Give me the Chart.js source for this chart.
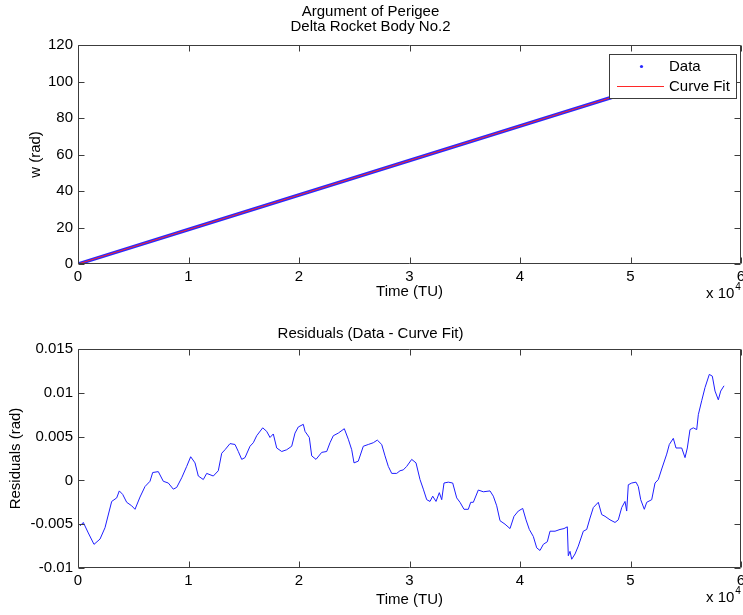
<!DOCTYPE html>
<html>
<head>
<meta charset="utf-8">
<script src="https://cdn.jsdelivr.net/npm/chart.js@4.4.1/dist/chart.umd.min.js"></script>
<style>
  body { margin: 0; background: #fff; }
  #wrap { position: relative; width: 743px; height: 615px; }
  canvas { position: absolute; left: 0; }
</style>
</head>
<body>
<div id="wrap">
  <canvas id="topChart" width="743" height="307" style="top:0"></canvas>
  <canvas id="resChart" width="743" height="308" style="top:307px"></canvas>
</div>
<script>
// x axis ticks (shared), shown in units of 10^4
var timeTicks = [0, 10000, 20000, 30000, 40000, 50000, 60000];
var timeTickLabels = ["0", "1", "2", "3", "4", "5", "6"];
var wTicks = [0, 20, 40, 60, 80, 100, 120];
var wTickLabels = ["0", "20", "40", "60", "80", "100", "120"];
var resTicks = [-0.01, -0.005, 0, 0.005, 0.01, 0.015];
var resTickLabels = ["-0.01", "-0.005", "0", "0.005", "0.01", "0.015"];

// Argument of perigee data
var dataTime = [0, 10000, 20000, 30000, 40000, 50000, 58463];
var dataW = [0, 18.9, 37.8, 56.7, 75.6, 94.5, 110.5];
// Curve fit
var fitTime = [0, 58463];
var fitW = [0, 110.5];

// Residuals (data - curve fit)
var resTime = [181, 480, 932, 1448, 1991, 2444, 3050, 3502, 3738, 4045, 4407, 4860, 5159, 5611, 6064,
  6516, 6760, 7267, 7720, 8172, 8625, 8932, 9385, 9837, 10199, 10589, 10887, 11340, 11647, 12245,
  12697, 13005, 13304, 13756, 14209, 14507, 14815, 15114, 15566, 15865, 16172, 16715, 17077, 17376,
  17675, 17982, 18435, 18887, 19340, 19639, 19937, 20390, 20544, 20933, 21150, 21539, 22055, 22507,
  22806, 23105, 23557, 24100, 24462, 24770, 24978, 25367, 25820, 26272, 26725, 27087, 27485, 27784,
  28082, 28390, 28842, 29141, 29440, 29747, 30199, 30589, 30951, 31250, 31557, 31856, 32100, 32399,
  32698, 32915, 33123, 33512, 33910, 34272, 34571, 34933, 35322, 35539, 35775, 36227, 36680, 37286,
  37585, 37892, 38191, 38644, 39096, 39458, 39847, 40245, 40544, 40843, 41205, 41512, 41811, 42110,
  42472, 42716, 43169, 43621, 43983, 44282, 44372, 44526, 44680, 44979, 45277, 45730, 46037, 46336,
  46635, 47087, 47395, 47694, 48146, 48599, 48897, 49205, 49504, 49655, 49802, 50110, 50499, 50707,
  50924, 51250, 51467, 51920, 52219, 52517, 52825, 53277, 53513, 53875, 54119, 54635, 54934, 55142,
  55386, 55685, 55992, 56137, 56445, 56744, 57133, 57404, 57649, 57947, 58164, 58463];
var resValue = [-0.0052, -0.0048, -0.0060, -0.0073, -0.0067, -0.0054, -0.0024, -0.0020, -0.0012, -0.0016,
  -0.0025, -0.0029, -0.0033, -0.0019, -0.0007, -0.0001, 0.0009, 0.0010, -0.0001, -0.0003, -0.0010,
  -0.0008, 0.0003, 0.0016, 0.0027, 0.0020, 0.0005, 0.0001, 0.0008, 0.0005, 0.0011, 0.0031, 0.0035,
  0.0042, 0.0041, 0.0033, 0.0024, 0.0026, 0.0039, 0.0043, 0.0051, 0.0060, 0.0056, 0.0049, 0.0053,
  0.0037, 0.0033, 0.0035, 0.0039, 0.0054, 0.0061, 0.0064, 0.0056, 0.0049, 0.0028, 0.0024, 0.0032,
  0.0033, 0.0043, 0.0051, 0.0054, 0.0059, 0.0047, 0.0035, 0.0020, 0.0022, 0.0039, 0.0041, 0.0043,
  0.0046, 0.0041, 0.0028, 0.0016, 0.0008, 0.0008, 0.0011, 0.0012, 0.0016, 0.0024, 0.0020, 0.0001,
  -0.0010, -0.0022, -0.0024, -0.0018, -0.0024, -0.0014, -0.0022, -0.0003, -0.0002, -0.0003, -0.0020,
  -0.0025, -0.0033, -0.0033, -0.0025, -0.0025, -0.0011, -0.0013, -0.0012, -0.0018, -0.0029, -0.0046,
  -0.0050, -0.0055, -0.0041, -0.0035, -0.0032, -0.0045, -0.0056, -0.0064, -0.0077, -0.0080, -0.0073,
  -0.0070, -0.0058, -0.0058, -0.0056, -0.0055, -0.0053, -0.0086, -0.0081, -0.0090, -0.0084, -0.0075,
  -0.0058, -0.0056, -0.0043, -0.0031, -0.0025, -0.0039, -0.0041, -0.0045, -0.0048, -0.0045, -0.0031,
  -0.0024, -0.0035, -0.0005, -0.0003, -0.0002, -0.0007, -0.0022, -0.0033, -0.0025, -0.0022, -0.0003,
  0.0001, 0.0013, 0.0030, 0.0041, 0.0048, 0.0037, 0.0037, 0.0026, 0.0037, 0.0058, 0.0060, 0.0058,
  0.0075, 0.0091, 0.0106, 0.0121, 0.0119, 0.0102, 0.0092, 0.0102, 0.0108];

var fontFamily = "'Liberation Sans', Arial, Helvetica, sans-serif";
var axisColor = "#3c3c3c";

function toPoints(xs, ys) {
  return xs.map(function (x, i) { return { x: x, y: ys[i] }; });
}

// MATLAB style box with inward ticks on all four sides
var boxTicks = {
  id: "boxTicks",
  afterDatasetsDraw: function (chart) {
    var ctx = chart.ctx, a = chart.chartArea;
    var x = chart.scales.x, y = chart.scales.y;
    var L = Math.round(a.left) + 0.5, R = Math.round(a.right) - 0.5;
    var T = Math.round(a.top) + 0.5, B = Math.round(a.bottom) - 0.5;
    ctx.save();
    ctx.strokeStyle = axisColor;
    ctx.lineWidth = 1;
    ctx.beginPath();
    x.ticks.forEach(function (t) {
      var px = Math.round(x.getPixelForValue(t.value)) + 0.5;
      ctx.moveTo(px, B); ctx.lineTo(px, B - 6);
      ctx.moveTo(px, T); ctx.lineTo(px, T + 6);
    });
    y.ticks.forEach(function (t) {
      var py = Math.round(y.getPixelForValue(t.value)) + 0.5;
      ctx.moveTo(L, py); ctx.lineTo(L + 6, py);
      ctx.moveTo(R, py); ctx.lineTo(R - 6, py);
    });
    ctx.rect(L, T, R - L, B - T);
    ctx.stroke();
    // "x 10^4" multiplier under the right end of the x axis
    ctx.fillStyle = "#000";
    ctx.textBaseline = "middle";
    ctx.textAlign = "left";
    ctx.font = "15px " + fontFamily;
    var ey = a.bottom + 30;
    ctx.fillText("x 10", 706, ey);
    var w = ctx.measureText("x 10").width;
    ctx.font = "10px " + fontFamily;
    ctx.fillText("4", 706 + w + 1, ey - 7);
    ctx.restore();
  }
};

// MATLAB style legend in the upper right corner
var boxLegend = {
  id: "boxLegend",
  afterDraw: function (chart) {
    var ctx = chart.ctx;
    var ds = chart.data.datasets;
    ctx.save();
    ctx.fillStyle = "#fff";
    ctx.fillRect(609, 54, 127, 44);
    ctx.strokeStyle = axisColor;
    ctx.lineWidth = 1;
    ctx.strokeRect(609.5, 54.5, 127, 44);
    ctx.fillStyle = ds[0].borderColor;
    ctx.beginPath();
    ctx.arc(641.5, 66.5, 1.6, 0, Math.PI * 2);
    ctx.fill();
    ctx.strokeStyle = ds[1].borderColor;
    ctx.beginPath();
    ctx.moveTo(617, 86.5);
    ctx.lineTo(664, 86.5);
    ctx.stroke();
    ctx.fillStyle = "#000";
    ctx.font = "15px " + fontFamily;
    ctx.textBaseline = "middle";
    ctx.textAlign = "left";
    ctx.fillText(ds[0].label, 669, 67);
    ctx.fillText(ds[1].label, 669, 87);
    ctx.restore();
  }
};

function xScale(height) {
  return {
    type: "linear",
    min: 0,
    max: 60000,
    grid: { display: false, drawTicks: false },
    border: { display: false },
    afterBuildTicks: function (s) { s.ticks = timeTicks.map(function (v) { return { value: v }; }); },
    afterFit: function (s) { s.height = height; s.paddingLeft = 0; s.paddingRight = 0; },
    ticks: {
      color: "#000",
      padding: 4,
      maxRotation: 0,
      font: { family: fontFamily, size: 15 },
      callback: function (v, i) { return timeTickLabels[i]; }
    },
    title: {
      display: true,
      text: "Time (TU)",
      color: "#000",
      padding: { top: 0, bottom: 6 },
      font: { family: fontFamily, size: 15 }
    }
  };
}

function yScale(min, max, ticks, labels, titleText, titlePad) {
  return {
    type: "linear",
    min: min,
    max: max,
    grid: { display: false, drawTicks: false },
    border: { display: false },
    afterBuildTicks: function (s) { s.ticks = ticks.map(function (v) { return { value: v }; }); },
    afterFit: function (s) { s.width = 78; s.paddingTop = 0; s.paddingBottom = 0; },
    ticks: {
      color: "#000",
      padding: 5,
      font: { family: fontFamily, size: 15 },
      callback: function (v, i) { return labels[i]; }
    },
    title: {
      display: true,
      text: titleText,
      color: "#000",
      padding: { top: titlePad, bottom: 0 },
      font: { family: fontFamily, size: 15 }
    }
  };
}

new Chart(document.getElementById("topChart"), {
  type: "line",
  data: {
    datasets: [
      {
        label: "Data",
        data: toPoints(dataTime, dataW),
        borderColor: "rgb(40, 40, 255)",
        backgroundColor: "rgb(40, 40, 255)",
        borderWidth: 3.5,
        pointRadius: 0,
        tension: 0,
        order: 2
      },
      {
        label: "Curve Fit",
        data: toPoints(fitTime, fitW),
        borderColor: "rgb(255, 40, 40)",
        backgroundColor: "rgb(255, 40, 40)",
        borderWidth: 1,
        pointRadius: 0,
        tension: 0,
        order: 1
      }
    ]
  },
  options: {
    responsive: false,
    animation: false,
    parsing: false,
    layout: { padding: { left: 0, right: 2, top: 0, bottom: 0 } },
    plugins: {
      legend: { display: false },
      tooltip: { enabled: false },
      title: {
        display: true,
        text: ["Argument of Perigee", "Delta Rocket Body No.2"],
        color: "#000",
        padding: { top: 4, bottom: 11 },
        font: { family: fontFamily, size: 15, weight: "normal", lineHeight: 1 }
      }
    },
    scales: {
      x: xScale(43),
      y: yScale(0, 120, wTicks, wTickLabels, "w (rad)", 27)
    }
  },
  plugins: [boxTicks, boxLegend]
});

new Chart(document.getElementById("resChart"), {
  type: "line",
  data: {
    datasets: [
      {
        label: "Residuals",
        data: toPoints(resTime, resValue),
        borderColor: "rgb(30, 30, 255)",
        borderWidth: 1,
        pointRadius: 0,
        tension: 0
      }
    ]
  },
  options: {
    responsive: false,
    animation: false,
    parsing: false,
    layout: { padding: { left: 0, right: 2, top: 0, bottom: 0 } },
    plugins: {
      legend: { display: false },
      tooltip: { enabled: false },
      title: {
        display: true,
        text: "Residuals (Data - Curve Fit)",
        color: "#000",
        padding: { top: 19, bottom: 8 },
        font: { family: fontFamily, size: 15, weight: "normal", lineHeight: 1 }
      }
    },
    scales: {
      x: xScale(47),
      y: yScale(-0.01, 0.015, resTicks, resTickLabels, "Residuals (rad)", 7)
    }
  },
  plugins: [boxTicks]
});
</script>
</body>
</html>
